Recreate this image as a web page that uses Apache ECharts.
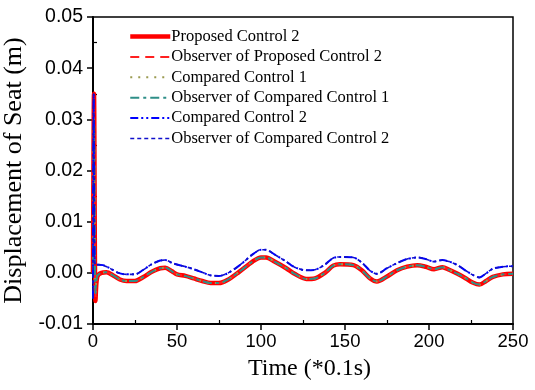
<!DOCTYPE html>
<html>
<head>
<meta charset="utf-8">
<script src="https://cdn.jsdelivr.net/npm/echarts@6/dist/echarts.min.js"></script>
<style>html,body{margin:0;padding:0;background:#fff}#c{width:535px;height:390px}</style>
</head>
<body>
<div id="c"></div>
<script>
// ---- data ----
const seriesNames = ['Proposed Control 2','Observer of Proposed Control 2','Compared Control 1','Observer of Compared Control 1','Compared Control 2','Observer of Compared Control 2'];
const xTicks = [0, 50, 100, 150, 200, 250];
const yTicks = [-0.01, 0, 0.01, 0.02, 0.03, 0.04, 0.05];

const tRed = [0, 0.6, 1.5, 2.5, 5, 8, 12, 16, 20, 25, 30, 35, 40, 43, 47, 50, 55, 60, 65, 70, 75, 80, 87, 95, 100, 103, 108, 115, 120, 127, 132, 138, 143, 147, 155, 160, 165, 169, 175, 181, 187, 193, 198, 203, 208, 212, 217, 222, 226, 230, 234, 238, 244, 250];
const proposed2 = [0.0, 0.035, -0.0055, -0.0008, 0.0, 0.0001, -0.0005, -0.0013, -0.0016, -0.0016, -0.0008, 0.0002, 0.0009, 0.001, 0.0003, -0.0003, -0.0006, -0.0011, -0.0016, -0.002, -0.002, -0.0014, 0.0002, 0.0022, 0.003, 0.003, 0.0022, 0.0009, -0.0002, -0.0012, -0.0011, 0.0, 0.0014, 0.0017, 0.0015, 0.0005, -0.0011, -0.0017, -0.0007, 0.0005, 0.0012, 0.0015, 0.0012, 0.0007, 0.0011, 0.0006, -0.0002, -0.0011, -0.0019, -0.0023, -0.0016, -0.0008, -0.0003, -0.0002];
const obsProposed2 = [0.0, 0.034, -0.005, -0.0007, 0.0, 0.0001, -0.0005, -0.0013, -0.0016, -0.0016, -0.0008, 0.0002, 0.0009, 0.001, 0.0003, -0.0003, -0.0006, -0.0011, -0.0016, -0.002, -0.002, -0.0014, 0.0002, 0.0022, 0.003, 0.003, 0.0022, 0.0009, -0.0002, -0.0012, -0.0011, 0.0, 0.0014, 0.0017, 0.0015, 0.0005, -0.0011, -0.0017, -0.0007, 0.0005, 0.0012, 0.0015, 0.0012, 0.0007, 0.0011, 0.0006, -0.0002, -0.0011, -0.0019, -0.0023, -0.0016, -0.0008, -0.0003, -0.0002];
const compared1 = [0.0, 0.03, -0.004, -0.0006, 0.0, 0.0001, -0.0005, -0.0013, -0.0016, -0.0016, -0.0008, 0.0002, 0.0009, 0.001, 0.0003, -0.0003, -0.0006, -0.0011, -0.0016, -0.002, -0.002, -0.0014, 0.0002, 0.0022, 0.003, 0.003, 0.0022, 0.0009, -0.0002, -0.0012, -0.0011, 0.0, 0.0014, 0.0017, 0.0015, 0.0005, -0.0011, -0.0017, -0.0007, 0.0005, 0.0012, 0.0015, 0.0012, 0.0007, 0.0011, 0.0006, -0.0002, -0.0011, -0.0019, -0.0023, -0.0016, -0.0008, -0.0003, -0.0002];
const obsCompared1 = [0.0, 0.03, -0.004, -0.0006, 0.0, 0.0001, -0.0005, -0.0013, -0.0016, -0.0016, -0.0008, 0.0002, 0.0009, 0.001, 0.0003, -0.0003, -0.0006, -0.0011, -0.0016, -0.002, -0.002, -0.0014, 0.0002, 0.0022, 0.003, 0.003, 0.0022, 0.0009, -0.0002, -0.0012, -0.0011, 0.0, 0.0014, 0.0017, 0.0015, 0.0005, -0.0011, -0.0017, -0.0007, 0.0005, 0.0012, 0.0015, 0.0012, 0.0007, 0.0011, 0.0006, -0.0002, -0.0011, -0.0019, -0.0023, -0.0016, -0.0008, -0.0003, -0.0002];

const tBlue = [0, 0.4, 1.2, 3, 6, 10, 15, 20, 25, 30, 35, 40, 43, 48, 55, 60, 65, 70, 75, 80, 87, 95, 100, 103, 108, 115, 120, 127, 132, 138, 143, 147, 155, 160, 165, 169, 175, 181, 187, 193, 198, 203, 208, 212, 217, 222, 226, 230, 234, 238, 244, 250];
const compared2 = [-0.005, 0.035, 0.0015, 0.0016, 0.0015, 0.0009, 0.0, -0.0003, -0.0003, 0.0006, 0.0017, 0.0024, 0.0025, 0.0018, 0.0012, 0.0007, 0.0001, -0.0005, -0.0006, -0.0001, 0.0014, 0.0036, 0.0045, 0.0045, 0.0036, 0.0022, 0.0011, 0.0005, 0.0006, 0.0016, 0.0029, 0.0031, 0.003, 0.002, 0.0004, -0.0002, 0.0009, 0.0019, 0.0027, 0.003, 0.0027, 0.0022, 0.0025, 0.0022, 0.0015, 0.0004, -0.0004, -0.0009, -0.0001, 0.0008, 0.0012, 0.0013];
const obsCompared2 = [-0.005, 0.035, 0.0015, 0.0016, 0.0015, 0.0009, 0.0, -0.0003, -0.0003, 0.0006, 0.0017, 0.0024, 0.0025, 0.0018, 0.0012, 0.0007, 0.0001, -0.0005, -0.0006, -0.0001, 0.0014, 0.0036, 0.0045, 0.0045, 0.0036, 0.0022, 0.0011, 0.0005, 0.0006, 0.0016, 0.0029, 0.0031, 0.003, 0.002, 0.0004, -0.0002, 0.0009, 0.0019, 0.0027, 0.003, 0.0027, 0.0022, 0.0025, 0.0022, 0.0015, 0.0004, -0.0004, -0.0009, -0.0001, 0.0008, 0.0012, 0.0013];

// ---- build ----
function pairs(t, v){ return t.map((x,i)=>[x, v[i]]); }
const styles = [
  {color:'#ff0000', width:4.5, type:'solid'},
  {color:'#ff2020', width:2, type:[9,6]},
  {color:'#9a9a50', width:2, type:[2,6]},
  {color:'#2f8f88', width:2, type:[9,4,3,4]},
  {color:'#0000ff', width:2, type:[8,3,2,3,2,3]},
  {color:'#1010cc', width:1.6, type:[4,3]}
];
const dataSets = [pairs(tRed, proposed2), pairs(tRed, obsProposed2), pairs(tRed, compared1), pairs(tRed, obsCompared1), pairs(tBlue, compared2), pairs(tBlue, obsCompared2)];

const serif = '"Liberation Serif","Times New Roman",serif';
const sans = '"Liberation Sans",Arial,sans-serif';

const chart = echarts.init(document.getElementById('c'), null, {renderer:'canvas'});
chart.setOption({
  animation:false,
  backgroundColor:'#fff',
  grid:{left:93, right:22, top:17, bottom:66, show:true, borderColor:'#000', borderWidth:1.5, backgroundColor:'transparent', containLabel:false, outerBoundsMode:'none'},
  legend:{
    orient:'vertical', left:128, top:28, padding:0, itemWidth:40, itemHeight:14, itemGap:3.4,
    data:seriesNames,
    itemStyle:{opacity:0},
    lineStyle:{width:'inherit'},
    textStyle:{fontFamily:serif, fontSize:16.5, color:'#000', padding:[0,0,0,-4]}
  },
  xAxis:{
    type:'value', min:xTicks[0], max:xTicks[xTicks.length-1], interval:50,
    name:'Time (*0.1s)', nameLocation:'middle', nameGap:33,
    nameTextStyle:{fontFamily:serif, fontSize:24, color:'#000', padding:[0,0,0,13]},
    axisLine:{show:true, onZero:false, lineStyle:{color:'#000', width:2}},
    axisTick:{show:true, length:6, lineStyle:{color:'#000', width:1.5}},
    minorTick:{show:true, splitNumber:2, length:-4, lineStyle:{color:'#000', width:1.2}},
    axisLabel:{fontFamily:sans, fontSize:18.5, color:'#000', margin:8},
    splitLine:{show:false}
  },
  yAxis:{
    type:'value', min:yTicks[0], max:yTicks[yTicks.length-1], interval:0.01,
    name:'Displacement of Seat (m)', nameLocation:'middle', nameGap:61,
    nameTextStyle:{fontFamily:serif, fontSize:26, color:'#000'},
    axisLine:{show:true, onZero:false, lineStyle:{color:'#000', width:2}},
    axisTick:{show:true, length:6, lineStyle:{color:'#000', width:1.5}},
    minorTick:{show:true, splitNumber:2, length:-4, lineStyle:{color:'#000', width:1.2}},
    axisLabel:{fontFamily:sans, fontSize:19.5, color:'#000', margin:10, formatter:v=>v.toFixed(2)},
    splitLine:{show:false}
  },
  series: seriesNames.map((n,i)=>({
    name:n, type:'line', data:dataSets[i], showSymbol:false, symbol:'none',
    smooth:0.3, lineStyle:{color:styles[i].color, width:styles[i].width, type:styles[i].type},
    itemStyle:{color:styles[i].color}, z:2+i
  }))
});
</script>
</body>
</html>
